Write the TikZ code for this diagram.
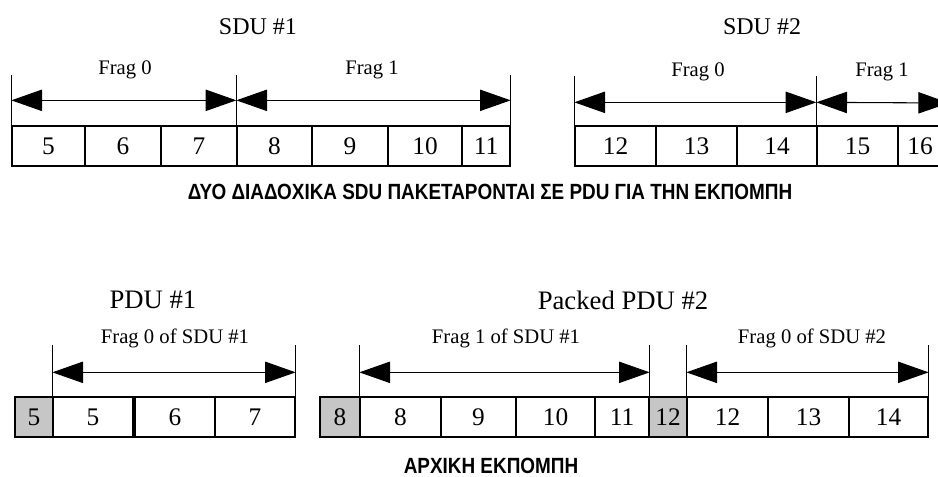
\documentclass[tikz,border=0pt]{standalone}
\usepackage{fontspec}
\setmainfont{Liberation Serif}
\newfontfamily\grkfont[FakeStretch=0.86]{Liberation Sans}
\usetikzlibrary{positioning, arrows.meta, calc}

\tikzset{
  cell/.style={draw, line width=1pt, inner sep=0pt, minimum width=#1*0.75pt,
               minimum height=30pt, font=\fontsize{19}{20}\selectfont},
  hdr/.style={cell=#1, fill=gray!45},
  tick/.style={line width=0.8pt},
  span/.style={<->, line width=0.8pt},
  title/.style={font=\fontsize{18}{20}\selectfont},
  bigtitle/.style={font=\fontsize{20}{22}\selectfont},
  caption/.style={font=\grkfont\bfseries\fontsize{16.5}{18}\selectfont}
}

\begin{document}
\begin{tikzpicture}[x=0.75pt, y=-0.75pt, >={Triangle[length=23pt,width=16pt]},
                    font=\fontsize{15.5}{17}\selectfont]
  \useasboundingbox (0,0) rectangle (938,477);

  % SDU #1 and SDU #2 split into fragments
  \node[cell=73] (a5)  at (48.5,146) {5};
  \node[cell=76] (a6)  at (123,146)  {6};
  \node[cell=76] (a7)  at (199,146)  {7};
  \node[cell=75] (a8)  at (274.5,146) {8};
  \node[cell=76] (a9)  at (350,146)  {9};
  \node[cell=74] (a10) at (425,146)  {10};
  \node[cell=48] (a11) at (486,146)  {11};

  \node[cell=81] (b12) at (615.5,146) {12};
  \node[cell=81] (b13) at (696.5,146) {13};
  \node[cell=80] (b14) at (777,146)   {14};
  \node[cell=81] (b15) at (857.5,146) {15};
  \node[cell=44] (b16) at (920,146)   {16};

  % Fragment limits (top row)
  \coordinate (u0) at ($(a5.north west)+(0,-50)$);
  \coordinate (u1) at ($(a8.north west)+(0,-50)$);
  \coordinate (u2) at ($(a11.north east)+(0,-50)$);
  \coordinate (u3) at ($(b12.north west)+(0,-49)$);
  \coordinate (u4) at ($(b15.north west)+(0,-49)$);
  \draw[tick] (u0) -- (a5.north west);
  \draw[tick] (u1) -- (a8.north west);
  \draw[tick] (u2) -- (a11.north east);
  \draw[tick] (u3) -- (b12.north west);
  \draw[tick] (u4) -- (b15.north west);

  \coordinate (v0) at ($(a5.north west)+(0,-25)$);
  \coordinate (v1) at ($(a8.north west)+(0,-25)$);
  \coordinate (v2) at ($(a11.north east)+(0,-25)$);
  \coordinate (v3) at ($(b12.north west)+(0,-23)$);
  \coordinate (v4) at ($(b15.north west)+(0,-23)$);
  \coordinate (v5) at (949,103);
  \draw[span] (v0) -- (v1);
  \draw[span] (v1) -- (v2);
  \draw[span] (v3) -- (v4);
  \draw[span] (v4) -- (v5);

  \node[title] (sdu1) at (258,27) {SDU \#1};
  \node (fa0) at (125,70) {Frag 0};
  \node (fa1) at (372,70) {Frag 1};
  \node[title] (sdu2) at (762,27) {SDU \#2};
  \node (fb0) at (698,72) {Frag 0};
  \node (fb1) at (882,72) {Frag 1};

  \node[caption] (cap1) at (490,192) {ΔΥΟ ΔΙΑΔΟΧΙΚΑ SDU ΠΑΚΕΤΑΡΟΝΤΑΙ ΣΕ PDU ΓΙΑ ΤΗΝ ΕΚΠΟΜΠΗ};

  % PDUs with headers (gray)
  \node[hdr=38]  (g5)  at (34,417)    {5};
  \node[cell=80] (p5)  at (93,417)    {5};
  \node[cell=80] (p6)  at (175,417)   {6};
  \node[cell=80] (p7)  at (255,417)   {7};

  \node[hdr=40]  (g8)  at (340,417)   {8};
  \node[cell=81] (q8)  at (400.5,417) {8};
  \node[cell=75] (q9)  at (478.5,417) {9};
  \node[cell=79] (q10) at (555.5,417) {10};
  \node[cell=54] (q11) at (622,417)   {11};
  \node[hdr=38]  (g12) at (668,417)   {12};
  \node[cell=81] (r12) at (727.5,417) {12};
  \node[cell=81] (r13) at (808.5,417) {13};
  \node[cell=79] (r14) at (888.5,417) {14};

  % Fragment limits (bottom row)
  \coordinate (w0) at ($(p5.north west)+(0,-51)$);
  \coordinate (w1) at ($(p7.north east)+(0,-51)$);
  \coordinate (w2) at ($(q8.north west)+(0,-51)$);
  \coordinate (w3) at ($(q11.north east)+(0,-51)$);
  \coordinate (w4) at ($(r12.north west)+(0,-51)$);
  \coordinate (w5) at ($(r14.north east)+(0,-51)$);
  \draw[tick] (w0) -- (p5.north west);
  \draw[tick] (w1) -- (p7.north east);
  \draw[tick] (w2) -- (q8.north west);
  \draw[tick] (w3) -- (q11.north east);
  \draw[tick] (w4) -- (r12.north west);
  \draw[tick] (w5) -- (r14.north east);

  \coordinate (z0) at ($(p5.north west)+(0,-24)$);
  \coordinate (z1) at ($(p7.north east)+(0,-24)$);
  \coordinate (z2) at ($(q8.north west)+(0,-24)$);
  \coordinate (z3) at ($(q11.north east)+(0,-24)$);
  \coordinate (z4) at ($(r12.north west)+(0,-24)$);
  \coordinate (z5) at ($(r14.north east)+(0,-24)$);
  \draw[span] (z0) -- (z1);
  \draw[span] (z2) -- (z3);
  \draw[span] (z4) -- (z5);

  \node[bigtitle] (pdu1) at (153,300) {PDU \#1};
  \node (fp1) at (175,338) {Frag 0 of SDU \#1};
  \node (fp2) at (506,338) {Frag 1 of SDU \#1};
  \node[bigtitle] (pdu2) at (623,300) {Packed PDU \#2};
  \node (fp3) at (812,338) {Frag 0 of SDU \#2};

  \node[caption] (cap2) at (491,466) {ΑΡΧΙΚΗ ΕΚΠΟΜΠΗ};
\end{tikzpicture}
\end{document}
